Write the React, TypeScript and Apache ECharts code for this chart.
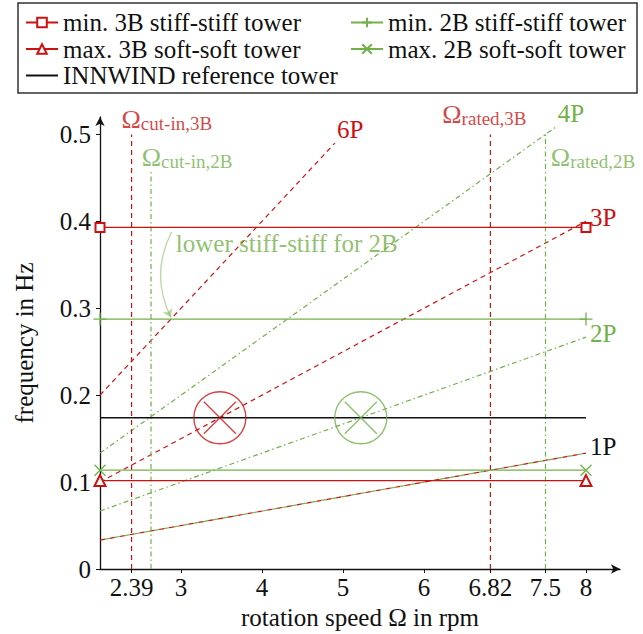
import React, { useEffect, useRef } from 'react';
import * as echarts from 'echarts';

const RED = '#cc1111';
const GREEN = '#72b04a';
const FONT = '"Liberation Serif", "Times New Roman", serif';
const FS = 25;

// axis ticks
const xTicks = [2.39, 3, 4, 5, 6, 6.82, 7.5, 8];
const xTickLabels = ['2.39', '3', '4', '5', '6', '6.82', '7.5', '8'];
const yTicks = [0, 0.1, 0.2, 0.3, 0.4, 0.5];
const yTickLabels = ['0', '0.1', '0.2', '0.3', '0.4', '0.5'];

// tower eigenfrequency limits (horizontal lines)
const towerSpan = [2, 8];
const min3BStiff = [0.393, 0.393];
const min2BStiff = [0.2875, 0.2875];
const max3BSoft = [0.1017, 0.1017];
const max2BSoft = [0.1137, 0.1137];
const innwindRef = [0.174, 0.174];

// rotor harmonics nP
const harmonicNames = ['1P', '2P', '3P', '4P', '6P'];
const harmonicOmegaStart = [2, 2, 2, 2, 2];
const harmonicOmegaEnd = [8, 8, 8, 7.65, 4.9];
const harmonicFreqStart = [0.0333, 0.0667, 0.1, 0.1333, 0.2];
const harmonicFreqEnd = [0.1333, 0.2667, 0.4, 0.51, 0.49];

// characteristic rotation speeds (vertical lines)
const speedKeys = ['cut-in,3B', 'cut-in,2B', 'rated,3B', 'rated,2B'];
const speedValues = [2.39, 2.63, 6.82, 7.5];
const speedTop = [0.5, 0.46, 0.5, 0.5];
const speedLabelX = [2.26, 2.51, 6.22, 7.56];
const speedLabelY = [0.518, 0.474, 0.524, 0.474];

// resonance crossings with the reference tower
const crossingOmega = [3.48, 5.22];
const crossingFreq = [0.174, 0.174];

// annotation
const annotationText = 'lower stiff-stiff for 2B';
const annotationPos = [2.93, 0.374];
const arrowFrom = [2.885, 0.388];
const arrowTo = [2.875, 0.2895];

const DASH = [5, 4];
const DASHDOT = [5, 3, 1.5, 3];

function buildOption() {
  const hLine = (name: string, vals: number[], color: string, symbol: string, symbolSize: number) => ({
    name,
    type: 'line',
    data: towerSpan.map((x, i) => [x, vals[i]]),
    symbol,
    symbolSize,
    showSymbol: symbol !== 'none',
    lineStyle: { color, width: 1.4 },
    itemStyle: { color, borderColor: color, borderWidth: 1.3 },
    z: 5,
  });

  const series: any[] = [
    hLine('min. 3B stiff-stiff tower', min3BStiff, RED, 'emptyRect', 9),
    hLine('max. 3B soft-soft tower', max3BSoft, RED, 'emptyTriangle', 11),
    hLine('min. 2B stiff-stiff tower', min2BStiff, GREEN, 'path://M5,0L5,10M0,5L10,5', 13),
    hLine('max. 2B soft-soft tower', max2BSoft, GREEN, 'path://M0,0L10,10M10,0L0,10', 11),
    hLine('INNWIND reference tower', innwindRef, '#111111', 'none', 0),
  ];

  harmonicNames.forEach((nm, i) => {
    const data = [
      [harmonicOmegaStart[i], harmonicFreqStart[i]],
      [harmonicOmegaEnd[i], harmonicFreqEnd[i]],
    ];
    const isRed = nm === '3P' || nm === '6P';
    const labelColor = nm === '1P' ? '#111' : isRed ? RED : GREEN;
    const offsets: Record<string, number[]> = {
      '1P': [0, -7],
      '2P': [0, -4],
      '3P': [0, -4],
      '4P': [-4, -12],
      '6P': [-2, -14],
    };
    const endLabel = {
      show: true,
      formatter: nm,
      color: labelColor,
      fontSize: FS,
      fontFamily: FONT,
      distance: 4,
      offset: offsets[nm],
    };
    if (nm === '1P') {
      series.push({
        name: '1P-3B', type: 'line', data, symbol: 'none',
        lineStyle: { color: RED, width: 1.2, type: [5, 5] }, z: 3,
        endLabel,
      });
      series.push({
        name: '1P-2B', type: 'line', data, symbol: 'none',
        lineStyle: { color: GREEN, width: 1.2, type: [5, 5], dashOffset: 5 }, z: 3,
      });
    } else {
      series.push({
        name: nm, type: 'line', data, symbol: 'none',
        lineStyle: { color: isRed ? RED : GREEN, width: 1.2, type: isRed ? DASH : DASHDOT },
        z: 3,
        endLabel,
      });
    }
  });

  speedKeys.forEach((k, i) => {
    const is3B = k.indexOf('3B') >= 0;
    series.push({
      name: 'speed-' + k,
      type: 'line',
      data: [[speedValues[i], 0], [speedValues[i], speedTop[i]]],
      symbol: 'none',
      lineStyle: { color: is3B ? RED : GREEN, width: 1.2, type: is3B ? DASH : DASHDOT },
      z: 3,
    });
  });

  // labels
  const labelData: any[] = speedKeys.map((k, i) => ({
    value: [speedLabelX[i], speedLabelY[i]],
    label: {
      formatter: '{o|Ω}{s|' + k + '}',
      color: k.indexOf('3B') >= 0 ? RED : GREEN,
    },
  }));
  labelData.push({
    value: annotationPos,
    label: { formatter: '{t|' + annotationText + '}', color: GREEN },
  });
  series.push({
    name: 'labels',
    type: 'scatter',
    data: labelData,
    symbolSize: 1,
    itemStyle: { color: 'rgba(0,0,0,0)' },
    clip: false,
    silent: true,
    z: 10,
    label: {
      show: true,
      position: 'right',
      distance: 0,
      fontFamily: FONT,
      rich: {
        o: { fontSize: FS + 1, fontFamily: FONT, verticalAlign: 'bottom', lineHeight: 28 },
        s: { fontSize: 19, fontFamily: FONT, verticalAlign: 'bottom', lineHeight: 11 },
        t: { fontSize: FS, fontFamily: FONT },
      },
    },
  });

  const crossSymbol = 'path://M26,0A26,26,0,1,1,26,52A26,26,0,1,1,26,0M10,10L42,42M42,10L10,42';
  series.push({
    name: 'crossings-3B',
    type: 'scatter',
    data: [[crossingOmega[0], crossingFreq[0]]],
    symbol: crossSymbol,
    symbolSize: 52,
    itemStyle: { color: 'rgba(0,0,0,0)', borderColor: RED, borderWidth: 1.4 },
    z: 6,
    silent: true,
  });
  series.push({
    name: 'crossings-2B',
    type: 'scatter',
    data: [[crossingOmega[1], crossingFreq[1]]],
    symbol: crossSymbol,
    symbolSize: 52,
    itemStyle: { color: 'rgba(0,0,0,0)', borderColor: GREEN, borderWidth: 1.4 },
    z: 6,
    silent: true,
  });

  series.push({
    name: 'arrow',
    type: 'lines',
    coordinateSystem: 'cartesian2d',
    data: [{ coords: [arrowFrom, arrowTo] }],
    symbol: ['none', 'arrow'],
    symbolSize: [0, 8],
    lineStyle: { color: GREEN, width: 1.3, curveness: -0.25 },
    silent: true,
    z: 7,
  });

  const legendText = { fontSize: FS, fontFamily: FONT, color: '#111' };
  const legendBase = {
    top: 5, orient: 'vertical', itemGap: 1.5, itemWidth: 32, itemHeight: 12,
    selectedMode: false, textStyle: legendText,
  };

  return {
    animation: false,
    backgroundColor: '#fff',
    grid: { left: 100, right: 23, top: 117, bottom: 65, outerBoundsMode: 'none' },
    legend: [
      {
        ...legendBase,
        left: 20,
        data: [
          'min. 3B stiff-stiff tower',
          'max. 3B soft-soft tower',
          { name: 'INNWIND reference tower', itemStyle: { opacity: 0 } },
        ],
      },
      {
        ...legendBase,
        left: 345,
        data: ['min. 2B stiff-stiff tower', 'max. 2B soft-soft tower'],
      },
    ],
    graphic: [
      {
        type: 'rect',
        shape: { x: 18, y: 3, width: 619, height: 90 },
        style: { fill: 'none', stroke: '#333', lineWidth: 1.5 },
        z: 100,
      },
    ],
    xAxis: {
      type: 'value',
      min: 2,
      max: 8.42,
      name: 'rotation speed Ω in rpm',
      nameLocation: 'middle',
      nameGap: 35,
      nameTextStyle: { fontSize: FS, fontFamily: FONT, color: '#111' },
      axisLine: { show: true, symbol: ['none', 'arrow'], symbolSize: [7, 9], lineStyle: { color: '#111', width: 1.3 } },
      axisTick: { show: true, length: 4, customValues: xTicks, lineStyle: { color: '#111' } },
      axisLabel: {
        customValues: xTicks,
        formatter: (v: number) => {
          const i = xTicks.findIndex((t) => Math.abs(t - v) < 1e-6);
          return i >= 0 ? xTickLabels[i] : '';
        },
        fontSize: FS, fontFamily: FONT, color: '#111', margin: 6,
      },
      splitLine: { show: false },
    },
    yAxis: {
      type: 'value',
      min: 0,
      max: 0.52,
      name: 'frequency in Hz',
      nameLocation: 'middle',
      nameGap: 63,
      nameTextStyle: { fontSize: FS, fontFamily: FONT, color: '#111' },
      axisLine: { show: true, symbol: ['none', 'arrow'], symbolSize: [7, 9], lineStyle: { color: '#111', width: 1.3 } },
      axisTick: { show: true, length: 4, customValues: yTicks, lineStyle: { color: '#111' } },
      axisLabel: {
        customValues: yTicks,
        formatter: (v: number) => {
          const i = yTicks.findIndex((t) => Math.abs(t - v) < 1e-6);
          return i >= 0 ? yTickLabels[i] : '';
        },
        fontSize: FS, fontFamily: FONT, color: '#111', margin: 9,
      },
      splitLine: { show: false },
    },
    series,
  };
}

export default function App() {
  const ref = useRef<HTMLDivElement>(null);
  useEffect(() => {
    if (!ref.current) return;
    const chart = echarts.init(ref.current, undefined, { renderer: 'svg' });
    chart.setOption(buildOption() as any);
    return () => chart.dispose();
  }, []);
  return <div ref={ref} style={{ width: 643, height: 634, position: 'absolute', left: 0, top: 0 }} />;
}
